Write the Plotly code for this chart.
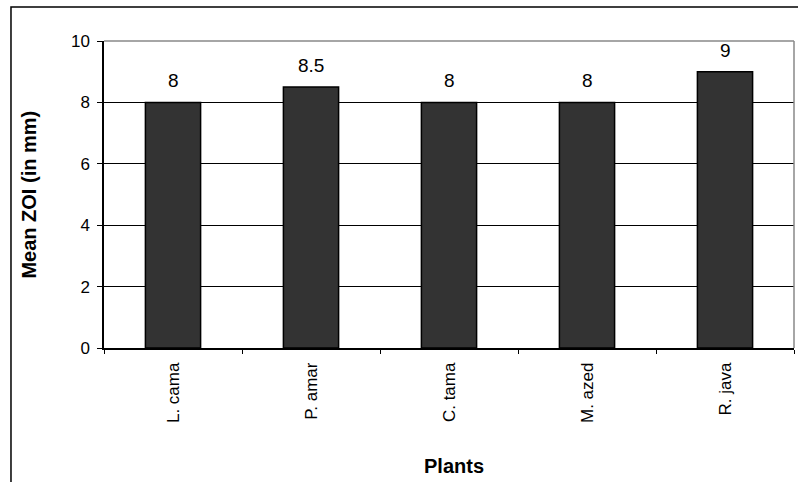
import plotly.graph_objects as go

# Mean zone of inhibition per plant extract
plants = ["L. cama", "P. amar", "C. tama", "M. azed", "R. java"]
mean_zoi = [8, 8.5, 8, 8, 9]
y_ticks = [0, 2, 4, 6, 8, 10]

FONT = "Liberation Sans, Arial, sans-serif"

fig = go.Figure(
    go.Bar(
        x=plants,
        y=mean_zoi,
        width=0.4,
        marker=dict(color="#333333", line=dict(color="black", width=1.5)),
    )
)

# value labels above each bar
value_labels = [
    dict(x=p, y=v, xref="x", yref="y", text=f"{v:g}", showarrow=False,
         xanchor="center", yanchor="bottom", yshift=9,
         font=dict(family=FONT, size=19, color="black"))
    for p, v in zip(plants, mean_zoi)
]

fig.update_layout(
    width=798,
    height=482,
    margin=dict(l=104, r=4, t=41, b=134),
    paper_bgcolor="white",
    plot_bgcolor="white",
    showlegend=False,
    font=dict(family=FONT, size=17, color="black"),
    xaxis=dict(
        type="category",
        tickangle=-90,
        ticks="outside",
        tickson="boundaries",
        ticklen=4,
        tickcolor="black",
        ticklabelstandoff=6,
        showline=True,
        linecolor="black",
        linewidth=1.5,
        showgrid=False,
        tickfont=dict(family=FONT, size=17, color="black"),
    ),
    yaxis=dict(
        range=[0, 10],
        tickvals=y_ticks,
        ticks="outside",
        ticklen=5,
        tickcolor="black",
        ticklabelstandoff=4,
        showline=True,
        linecolor="black",
        linewidth=1.5,
        showgrid=True,
        gridcolor="black",
        gridwidth=1,
        zeroline=False,
        tickfont=dict(family=FONT, size=17, color="black"),
    ),
    shapes=[
        # gray top and right edges of the plotting area
        dict(type="line", xref="paper", yref="paper", x0=0, x1=1, y0=1, y1=1,
             line=dict(color="#888888", width=1.5), layer="above"),
        dict(type="line", xref="paper", yref="paper", x0=1, x1=1, y0=0, y1=1,
             line=dict(color="#888888", width=1.5), layer="above"),
        # outer chart frame
        dict(type="rect", xref="paper", yref="paper",
             x0=-0.1348, x1=1.02, y0=-0.46, y1=1.1107,
             line=dict(color="black", width=1.5), layer="below"),
    ],
    annotations=value_labels + [
        dict(text="<b>Mean ZOI (in mm)</b>", xref="paper", yref="paper",
             x=-0.110, y=0.5, textangle=-90, showarrow=False,
             xanchor="center", yanchor="middle",
             font=dict(family=FONT, size=20, color="black")),
        dict(text="<b>Plants</b>", xref="paper", yref="paper",
             x=0.507, y=-0.384, showarrow=False,
             xanchor="center", yanchor="middle",
             font=dict(family=FONT, size=20, color="black")),
    ],
)

fig.write_html("out.html")
